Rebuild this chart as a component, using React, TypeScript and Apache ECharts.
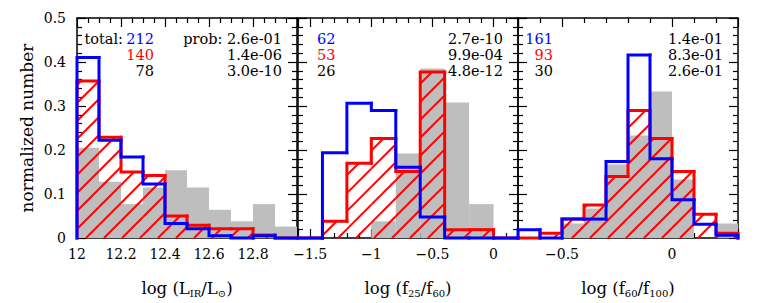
import React, { useEffect, useRef } from 'react';
import * as echarts from 'echarts';

// ---------- data ----------
const lirEdges = [12.0, 12.1, 12.2, 12.3, 12.4, 12.5, 12.6, 12.7, 12.8, 12.9, 13.0];
const lirBlue = [0.410, 0.222, 0.184, 0.123, 0.033, 0.021, 0.005, 0.0, 0.005, 0.0];
const lirRed = [0.357, 0.229, 0.150, 0.142, 0.050, 0.029, 0.021, 0.021, 0.007, 0.0];
const lirGray = [0.205, 0.128, 0.077, 0.115, 0.154, 0.115, 0.064, 0.038, 0.077, 0.026];

const f2560Edges = [-1.6, -1.4, -1.2, -1.0, -0.8, -0.6, -0.4, -0.2, 0.0, 0.2];
const f2560Blue = [0.0, 0.194, 0.306, 0.290, 0.161, 0.048, 0.0, 0.0, 0.0];
const f2560Red = [0.0, 0.038, 0.170, 0.226, 0.151, 0.377, 0.019, 0.019, 0.0];
const f2560Gray = [0.0, 0.0, 0.0, 0.038, 0.192, 0.385, 0.308, 0.077, 0.0];

const f60100Edges = [-0.7, -0.6, -0.5, -0.4, -0.3, -0.2, -0.1, 0.0, 0.1, 0.2, 0.3];
const f60100Blue = [0.019, 0.0, 0.043, 0.043, 0.174, 0.416, 0.180, 0.087, 0.031, 0.006];
const f60100Red = [0.0, 0.011, 0.043, 0.075, 0.140, 0.290, 0.226, 0.151, 0.054, 0.011];
const f60100Gray = [0.0, 0.0, 0.033, 0.067, 0.167, 0.233, 0.333, 0.133, 0.0, 0.033];

const totals = [
  ['212', '140', '78'],
  ['62', '53', '26'],
  ['161', '93', '30'],
];
const probs = [
  ['prob: 2.6e-01', '1.4e-06', '3.0e-10'],
  ['2.7e-10', '9.9e-04', '4.8e-12'],
  ['1.4e-01', '8.3e-01', '2.6e-01'],
];
const yTitle = 'normalized number';

// ---------- styles ----------
const FONT = 'DejaVu Serif';
const BLUE = '#0000ff';
const RED = '#ff0000';
const GRAY = '#bebebe';
const BLACK = '#000000';
const HATCH = 18;

const GRID_TOP = 18;
const GRID_H = 221;
const GRID_LEFTS = [77, 298, 518];
const GRID_W = 220;

function makeData(edges: number[], vals: number[]) {
  return vals.map((v, i) => [edges[i], edges[i + 1], v, i > 0 ? vals[i - 1] : 0, i === vals.length - 1 ? 1 : 0]);
}

function fillItem(_p: any, api: any) {
  const a = api.coord([api.value(0), api.value(2)]);
  const b = api.coord([api.value(1), 0]);
  return {
    type: 'rect',
    shape: { x: a[0], y: a[1], width: b[0] - a[0], height: b[1] - a[1] },
    style: { fill: GRAY },
  };
}

function hatchItem(_p: any, api: any) {
  const a = api.coord([api.value(0), api.value(2)]);
  const b = api.coord([api.value(1), 0]);
  const xL = a[0], xR = b[0], yT = a[1], yB = b[1];
  const children: any[] = [];
  if (yB - yT > 0.5) {
    for (let c = Math.ceil((xL + yT) / HATCH) * HATCH; c <= xR + yB; c += HATCH) {
      const xa = Math.max(xL, c - yB);
      const xb = Math.min(xR, c - yT);
      if (xb - xa > 0.3) {
        children.push({
          type: 'line',
          shape: { x1: xa, y1: c - xa, x2: xb, y2: c - xb },
          style: { stroke: RED, lineWidth: 2 },
        });
      }
    }
  }
  return { type: 'group', children };
}

function outlineItem(color: string) {
  return (_p: any, api: any) => {
    const x0 = api.value(0), x1 = api.value(1), v = api.value(2), pv = api.value(3), last = api.value(4);
    const pts = [api.coord([x0, pv]), api.coord([x0, v]), api.coord([x1, v])];
    if (last) pts.push(api.coord([x1, 0]));
    return {
      type: 'polyline',
      shape: { points: pts },
      style: { stroke: color, lineWidth: 3, fill: 'none', lineCap: 'square', lineJoin: 'miter' },
    };
  };
}

const tickStyle = { color: BLACK, width: 1.2 };
const lineStyle = { color: BLACK, width: 1.5 };

function fmt(v: number) {
  const s = String(Number(v.toFixed(3)));
  return s.replace('-', '\u2212');
}

const App: React.FC = () => {
  const ref = useRef<HTMLDivElement>(null);

  useEffect(() => {
    if (!ref.current) return;
    const chart = echarts.init(ref.current, undefined, { renderer: 'svg' });

    const panels = [
      { edges: lirEdges, blue: lirBlue, red: lirRed, gray: lirGray, min: 12, max: 13, interval: 0.2, minorSplit: 4, showMin: true,
        name: '{n|log (L}{s|IR}{n|/L}{s|\u2299}{n|)}' },
      { edges: f2560Edges, blue: f2560Blue, red: f2560Red, gray: f2560Gray, min: -1.6, max: 0.2, splitNumber: 4, minorSplit: 5, showMin: false,
        name: '{n|log (f}{s|25}{n|/f}{s|60}{n|)}' },
      { edges: f60100Edges, blue: f60100Blue, red: f60100Red, gray: f60100Gray, min: -0.7, max: 0.3, splitNumber: 2, minorSplit: 5, showMin: false,
        name: '{n|log (f}{s|60}{n|/f}{s|100}{n|)}' },
    ];

    const grid: any[] = [];
    const xAxis: any[] = [];
    const yAxis: any[] = [];
    const series: any[] = [];
    const graphic: any[] = [];

    panels.forEach((p, gi) => {
      grid.push({ left: GRID_LEFTS[gi], top: GRID_TOP, width: GRID_W, height: GRID_H });
      const common: any = {
        gridIndex: gi,
        type: 'value',
        min: p.min,
        max: p.max,
        splitLine: { show: false },
        axisLine: { show: true, onZero: false, lineStyle },
        axisTick: { show: true, inside: true, length: 9, lineStyle: tickStyle },
        minorTick: { show: true, splitNumber: p.minorSplit, length: 5, lineStyle: tickStyle },
      };
      if ((p as any).interval) common.interval = (p as any).interval;
      if ((p as any).splitNumber) common.splitNumber = (p as any).splitNumber;
      xAxis.push({
        ...common,
        position: 'bottom',
        axisLabel: {
          show: true, margin: 9, color: BLACK, fontFamily: FONT, fontSize: 14,
          showMinLabel: p.showMin, showMaxLabel: false, formatter: (v: number) => fmt(v),
        },
        name: p.name,
        nameLocation: 'middle',
        nameGap: 40,
        nameTextStyle: {
          rich: {
            n: { fontFamily: FONT, fontSize: 16.5, color: BLACK, lineHeight: 20, verticalAlign: 'middle' },
            s: { fontFamily: FONT, fontSize: 10, color: BLACK, lineHeight: 10, verticalAlign: 'bottom' },
          },
        },
      });
      xAxis.push({ ...common, position: 'top', axisLabel: { show: false } });
      const ycommon: any = {
        gridIndex: gi,
        type: 'value',
        min: 0,
        max: 0.5,
        interval: 0.1,
        splitLine: { show: false },
        axisLine: { show: true, onZero: false, lineStyle },
        axisTick: { show: true, inside: true, length: 9, lineStyle: tickStyle },
        minorTick: { show: true, splitNumber: 5, length: 5, lineStyle: tickStyle },
      };
      yAxis.push({
        ...ycommon,
        position: 'left',
        axisLabel: gi === 0
          ? { show: true, margin: 11, color: BLACK, fontFamily: FONT, fontSize: 14, formatter: (v: number) => fmt(v) }
          : { show: false },
        ...(gi === 0
          ? { name: yTitle, nameLocation: 'middle', nameGap: 42, nameRotate: 90,
              nameTextStyle: { fontFamily: FONT, fontSize: 17, color: BLACK } }
          : {}),
      });
      yAxis.push({ ...ycommon, position: 'right', axisLabel: { show: false } });

      const xi = gi * 2;
      const yi = gi * 2;
      const base = { type: 'custom', coordinateSystem: 'cartesian2d', xAxisIndex: xi, yAxisIndex: yi, silent: true, clip: false };
      series.push({ ...base, name: 'gray' + gi, renderItem: fillItem, data: makeData(p.edges, p.gray), z: 1 });
      series.push({ ...base, name: 'hatch' + gi, renderItem: hatchItem, data: makeData(p.edges, p.red), z: 2 });
      series.push({ ...base, name: 'red' + gi, renderItem: outlineItem(RED), data: makeData(p.edges, p.red), z: 3 });
      series.push({ ...base, name: 'blue' + gi, renderItem: outlineItem(BLUE), data: makeData(p.edges, p.blue), z: 4 });
    });

    // annotation texts
    const rowY = [39, 55, 71];
    const colors = [BLUE, RED, BLACK];
    const font = `14.5px "${FONT}"`;
    graphic.push({ type: 'text', x: 123, y: rowY[0], style: { text: 'total:', fill: BLACK, font, align: 'right', verticalAlign: 'middle' } });
    totals.forEach((rows, gi) => {
      const left = GRID_LEFTS[gi];
      rows.forEach((t, ri) => {
        const align = gi === 1 ? 'left' : 'right';
        const x = gi === 0 ? left + 77 : gi === 1 ? left + 19 : left + 35;
        graphic.push({ type: 'text', x, y: rowY[ri], style: { text: t, fill: colors[ri], font, align, verticalAlign: 'middle' } });
      });
      probs[gi].forEach((t, ri) => {
        graphic.push({ type: 'text', x: left + 205, y: rowY[ri], style: { text: t, fill: BLACK, font, align: 'right', verticalAlign: 'middle' } });
      });
    });

    chart.setOption({
      animation: false,
      backgroundColor: '#ffffff',
      grid,
      xAxis,
      yAxis,
      series,
      graphic,
    });

    return () => chart.dispose();
  }, []);

  return <div ref={ref} style={{ position: 'fixed', left: 0, top: 0, width: 763, height: 303 }} />;
};

export default App;
